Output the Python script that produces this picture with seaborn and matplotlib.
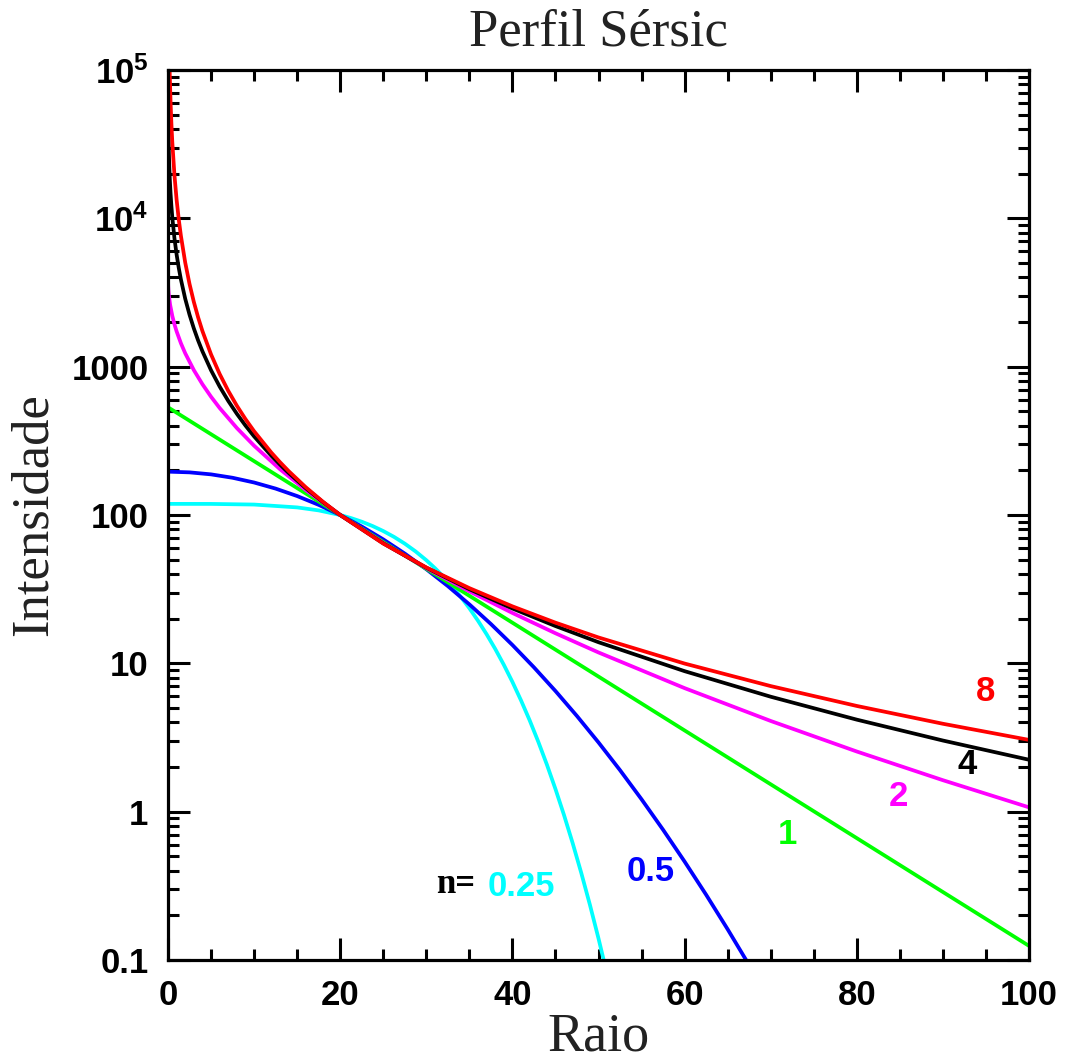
import numpy as np
import pandas as pd
import matplotlib
matplotlib.use("Agg")
import matplotlib.pyplot as plt
import seaborn as sns
from matplotlib.ticker import FixedLocator, FixedFormatter, MultipleLocator, NullFormatter

# ---- values (Sérsic profiles through R=20, I=100) ----
r_025 = [0, 5, 10, 15, 17.5, 20, 21.25, 22.5, 23.75, 25, 26.25, 27.5, 28.75, 30, 31, 32, 33, 34, 35,
         36, 37, 38, 39, 40, 41, 42, 43, 44, 45, 46, 47, 48, 49, 50, 51, 52]
i_025 = [118.85, 118.77, 117.6, 112.5, 107.4, 100, 95.37, 90.13, 84.31, 77.96, 71.19, 64.11, 56.85,
         49.58, 43.86, 38.32, 33.04, 28.09, 23.53, 19.39, 15.72, 12.52, 9.7845, 7.498, 5.628, 4.134,
         2.967, 2.080, 1.4215, 0.9465, 0.6131, 0.3860, 0.2359, 0.1397, 0.0801, 0.0444]

r_05 = [0, 2.5, 5, 7.5, 10, 12.5, 15, 17.5, 20, 22.5, 25, 27.5, 30, 32.5, 35, 37.5, 40, 42.5, 45,
        47.5, 50, 52.5, 55, 57.5, 60, 62.5, 65, 67.5, 70]
i_05 = [195.96, 193.86, 187.9, 178.23, 165.6, 150.65, 134.2, 117.07, 100, 83.64, 68.50, 54.94, 43.14,
        33.18, 24.98, 18.42, 13.30, 9.402, 6.509, 4.412, 2.929, 1.904, 1.2116, 0.7551, 0.4608, 0.2754,
        0.1611, 0.0923, 0.0518]

r_1 = [0, 10, 20, 30, 40, 50, 60, 70, 80, 90, 100]
i_1 = [532.3, 230.7, 100, 43.34, 18.79, 8.142, 3.529, 1.5295, 0.6629, 0.2873, 0.1245]

r_2 = [0, 0.02, 0.05, 0.1, 0.25, 0.5, 0.75, 1, 1.5, 2, 3, 4, 5, 6, 8, 10, 13, 16, 20, 25, 30, 35,
       40, 45, 50, 60, 70, 80, 90, 100]
i_2 = [3930, 3499.5, 3271.6, 3031.7, 2607, 2199, 1930, 1729, 1438, 1231, 948.2, 761.0, 626.9, 526.2,
       385.5, 293.1, 203.7, 147.3, 100, 64.83, 43.82, 30.56, 21.86, 15.95, 11.84, 6.805, 4.088, 2.544,
       1.630, 1.0695]

r_4 = [0, 0.05, 0.1, 0.15, 0.2, 0.25, 0.3, 0.4, 0.5, 0.75, 1, 1.25, 1.5, 2, 2.5, 3, 3.5, 4, 5, 6, 7,
       8, 9, 10, 12, 13, 14, 16, 18, 20, 25, 30, 35, 40, 45, 50, 60, 70, 80, 90, 100]
i_4 = [214180, 38558, 27871, 22422, 18949, 16487, 14629, 11975, 10149, 7330, 5699, 4629, 3871, 2869,
       2240, 1811, 1501, 1269, 945.4, 734.1, 587.4, 480.8, 400.7, 338.8, 250.8, 218.8, 192.4, 151.6,
       122.1, 100, 64.40, 44.12, 31.61, 23.43, 17.84, 13.88, 8.855, 5.956, 4.1715, 3.0166, 2.2389]

r_8 = [0.05, 0.1, 0.15, 0.2, 0.3, 0.4, 0.5, 0.75, 1, 1.25, 1.5, 2, 2.5, 3, 3.5, 4, 5, 6, 7, 8, 9, 10,
       12, 13, 14, 16, 18, 20, 25, 30, 35, 40, 45, 50, 60, 70, 80, 90, 100]
i_8 = [385930, 197360, 129691, 95010, 60102, 42803, 32618, 19517, 13339, 9836, 7619, 5031, 3609, 2732,
       2148, 1737, 1209.3, 892.6, 686.7, 544.9, 442.9, 367.0, 263.5, 227.3, 198.0, 153.9, 122.8, 100,
       64.20, 44.29, 32.14, 24.22, 18.80, 14.94, 9.965, 7.024, 5.160, 3.914, 3.0466]

n_labels = ["0.25", "0.5", "1", "2", "4", "8"]
colors = ["#00ffff", "#0000ff", "#00ff00", "#ff00ff", "#000000", "#ff0000"]

y_ticks = [0.1, 1, 10, 100, 1000, 1e4, 1e5]
y_ticklabels = ["0.1", "1", "10", "100", "1000", r"$\mathbf{10^{4}}$", r"$\mathbf{10^{5}}$"]
x_ticks = [0, 20, 40, 60, 80, 100]

# curve label positions (data coords)
lab_x = [41.1, 56.1, 71.9, 84.8, 92.8, 94.9]
lab_y = [0.313, 0.394, 0.70, 1.26, 2.07, 6.43]

frames = []
for lab, r, i in zip(n_labels, [r_025, r_05, r_1, r_2, r_4, r_8],
                     [i_025, i_05, i_1, i_2, i_4, i_8]):
    frames.append(pd.DataFrame({"Raio": r, "Intensidade": i, "n": lab}))
df = pd.concat(frames, ignore_index=True)

sns.set_theme(style="ticks")
plt.rcParams["font.family"] = ["Liberation Sans", "DejaVu Sans"]
plt.rcParams["mathtext.fontset"] = "custom"
plt.rcParams["mathtext.bf"] = "Liberation Sans:bold"
plt.rcParams["mathtext.rm"] = "Liberation Sans:bold"
plt.rcParams["text.color"] = "black"
plt.rcParams["axes.labelcolor"] = "black"
plt.rcParams["xtick.color"] = "black"
plt.rcParams["ytick.color"] = "black"

fig = plt.figure(figsize=(10.65, 10.63), dpi=100)
ax = fig.add_axes([168 / 1065, 1 - 960 / 1063, (1029 - 168) / 1065, (960 - 70) / 1063])

sns.lineplot(data=df, x="Raio", y="Intensidade", hue="n", hue_order=n_labels,
             palette=colors, estimator=None, sort=False, legend=False,
             linewidth=2.7, ax=ax)

ax.set_yscale("log")
ax.set_xlim(0, 100)
ax.set_ylim(0.1, 1e5)

ax.xaxis.set_major_locator(FixedLocator(x_ticks))
ax.xaxis.set_minor_locator(MultipleLocator(5))
ax.yaxis.set_major_locator(FixedLocator(y_ticks))
ax.yaxis.set_major_formatter(FixedFormatter(y_ticklabels))
ax.yaxis.set_minor_formatter(NullFormatter())

for s in ax.spines.values():
    s.set_linewidth(2.3)
    s.set_color("black")
    s.set_visible(True)

ax.tick_params(which="both", direction="in", top=True, right=True, width=2.2,
               color="black", labelcolor="black")
ax.tick_params(which="major", length=16, pad=14, labelsize=25)
ax.tick_params(which="minor", length=8)
for t in ax.get_xticklabels() + ax.get_yticklabels():
    t.set_fontweight("bold")
    t.set_family(["Liberation Sans", "DejaVu Sans"])

ax.set_xlabel("Raio", fontsize=39, family="Liberation Serif", color="#222222", labelpad=0)
ax.set_ylabel("Intensidade", fontsize=38, family="Liberation Serif", color="#222222", labelpad=10)
ax.set_title("Perfil Sérsic", fontsize=38, family="Liberation Serif", color="#222222", pad=18)

for lab, c, x, y in zip(n_labels, colors, lab_x, lab_y):
    ax.text(x, y, lab, color=c, fontsize=25, fontweight="bold", ha="center", va="center",
            family=["Liberation Sans", "DejaVu Sans"])
ax.text(33.4, 0.322, "n=", color="black", fontsize=25, fontweight="bold", ha="center",
        va="center", family="Liberation Serif")

fig.savefig("out.png", dpi=100, facecolor="white")
